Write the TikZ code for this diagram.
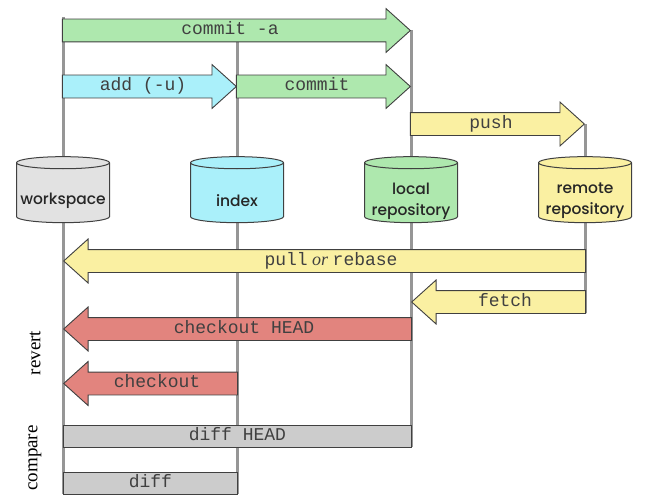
\documentclass[tikz,border=0pt]{standalone}
\usepackage{fontspec}
\setmainfont{Liberation Serif}
\setmonofont{Liberation Mono}
\newfontfamily\cylfont{Poppins}[UprightFont=* Medium]
\usetikzlibrary{shapes.geometric, shapes.arrows, positioning}
\definecolor{edge}{RGB}{64,64,64}
\definecolor{railgray}{RGB}{150,150,150}
\definecolor{gitgray}{RGB}{204,204,204}
\definecolor{wsgray}{RGB}{226,226,226}
\definecolor{gitcyan}{RGB}{170,240,250}
\definecolor{gitgreen}{RGB}{174,232,174}
\definecolor{gityellow}{RGB}{250,240,162}
\definecolor{gitred}{RGB}{226,132,126}

\begin{document}
\begin{tikzpicture}[x=1pt, y=-1pt, semithick]
      \tikzstyle{repo}=[cylinder, shape border rotate=90, draw=edge, line width=1pt, aspect=0.13, minimum width=93pt, minimum height=66pt, text width=87pt, inner xsep=3pt, inner ysep=0pt]
      \tikzstyle{repotext}=[align=center, text=black!85, yshift=-7pt, font=\cylfont\fontsize{15.5}{21}\selectfont]
      \tikzstyle{fat}=[single arrow, draw=edge, line width=0.9pt, text=black!75, font=\ttfamily\fontsize{18}{18}\selectfont, text height=10pt, text depth=2pt, inner ysep=5pt, inner xsep=0pt, single arrow head extend=10.5pt, single arrow tip angle=84, anchor=tip]
      \tikzstyle{back}=[fat, shape border rotate=180]
      \tikzstyle{bar}=[rectangle, draw=edge, line width=0.9pt, fill=gitgray, text=black!75, font=\ttfamily\fontsize{18}{18}\selectfont, text height=10pt, text depth=2pt, inner ysep=5pt, anchor=west]
      \tikzstyle{railline}=[draw=railgray, line width=3pt]
      \tikzstyle{side}=[rotate=90, font=\fontsize{19}{19}\selectfont]
      \useasboundingbox (0,0) rectangle (664,503);
      % rails, drawn first so that everything covers them
      \coordinate (wsTop) at (63,17);    \coordinate (wsEnd) at (63,494);
      \coordinate (idxTop) at (237,41);  \coordinate (idxEnd) at (237,494);
      \coordinate (locTop) at (411,30.5); \coordinate (locEnd) at (411,447);
      \coordinate (remTop) at (585,124); \coordinate (remEnd) at (585,313);
      \draw[railline] (wsTop) -- (wsEnd);
      \draw[railline] (idxTop) -- (idxEnd);
      \draw[railline] (locTop) -- (locEnd);
      \draw[railline] (remTop) -- (remEnd);
      % the four places
      \node[repo, fill=wsgray, label={[repotext]center:workspace}] (ws) at (63,194) {};
      \node[repo, fill=gitcyan, label={[repotext]center:index}] (idx) at (237,194) {};
      \node[repo, fill=gitgreen, label={[repotext]center:local\\repository}] (loc) at (411,194) {};
      \node[repo, fill=gityellow, label={[repotext]center:remote\\repository}] (rem) at (585,194) {};
      % commands
      \node[fat, fill=gitgreen, minimum height=348pt] (commita) at (locTop) {commit -a};
      \node[fat, fill=gitcyan, minimum height=174pt] (add) at (idx |- 0,86.5) {add (-u)};
      \node[fat, fill=gitgreen, minimum height=174pt] (commit) at (loc |- 0,86.5) {commit};
      \node[fat, fill=gityellow, minimum height=174pt] (push) at (remTop) {push};
      \node[back, fill=gityellow, minimum height=522pt] (pull) at (ws |- 0,261) {pull{\rmfamily\itshape\ or\ }rebase};
      \node[back, fill=gityellow, minimum height=174pt] (fetch) at (loc |- 0,302) {fetch};
      \node[back, fill=gitred, minimum height=348pt] (cohead) at (ws |- 0,329) {checkout HEAD};
      \node[back, fill=gitred, minimum height=174pt] (co) at (ws |- 0,383.5) {checkout};
      \node[bar, minimum width=348pt] (diffhead) at (ws |- 0,436) {diff HEAD};
      \node[bar, minimum width=174pt] (diff) at (ws |- 0,483) {diff};
      \node[side] (revert) at (35,353) {revert};
      \node[side] (compare) at (35,458) {compare};
    \end{tikzpicture}
\end{document}
